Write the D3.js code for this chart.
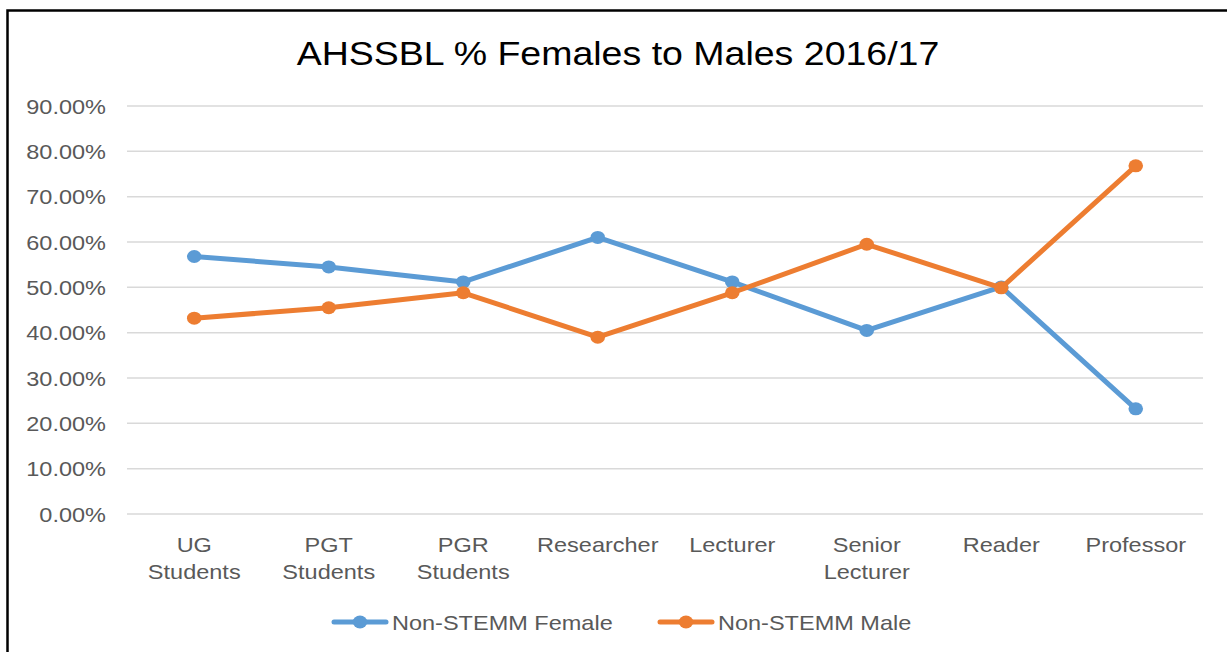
<!DOCTYPE html>
<html>
<head>
<meta charset="utf-8"/>
<script src="https://d3js.org/d3.v7.min.js"></script>
<style>
  body { margin: 0; background: #fff; }
  svg text { font-family: "Liberation Sans", Arial, sans-serif; }
</style>
</head>
<body>
<svg id="chart" width="1227" height="652"></svg>
<script>
// data
var categories = ["UG Students", "PGT Students", "PGR Students", "Researcher",
                  "Lecturer", "Senior Lecturer", "Reader", "Professor"];
var female = [56.8, 54.5, 51.2, 61.0, 51.2, 40.5, 50.1, 23.2];
var male   = [43.2, 45.5, 48.8, 39.0, 48.8, 59.5, 49.9, 76.8];
var yTicks = [0, 10, 20, 30, 40, 50, 60, 70, 80, 90];
var seriesNames = ["Non-STEMM Female", "Non-STEMM Male"];
var seriesColors = ["#5B9BD5", "#ED7D31"];

var svg = d3.select("#chart");
var stretch = 1.12; // the text in the picture looks a bit wide

// frame (only top/left visible in picture)
svg.append("rect")
    .attr("x", 7.5).attr("y", 10.5)
    .attr("width", 1300).attr("height", 800)
    .attr("fill", "#fff").attr("stroke", "#000").attr("stroke-width", 2.5);

function label(g, x, y, txt, size, anchor, color) {
    return g.append("text")
        .attr("transform", "translate(" + x + "," + y + ") scale(" + stretch + ",1)")
        .attr("text-anchor", anchor)
        .attr("font-size", size)
        .attr("fill", color)
        .text(txt);
}

// title
label(svg, 618, 65, "AHSSBL % Females to Males 2016/17", 33.5, "middle", "#000");

var x = d3.scaleBand().domain(categories).range([127, 1203]);
var y = d3.scaleLinear().domain([0, 90]).range([514, 106]);

// gridlines
svg.append("g").selectAll("line")
    .data(yTicks).enter().append("line")
    .attr("x1", 127).attr("x2", 1203)
    .attr("y1", function(d) { return y(d); })
    .attr("y2", function(d) { return y(d); })
    .attr("stroke", "#D9D9D9").attr("stroke-width", 1.5);

// y tick labels
var yl = svg.append("g");
yTicks.forEach(function(t) {
    label(yl, 106, y(t) + 7.5, d3.format(".2f")(t) + "%", 21, "end", "#595959");
});

// category labels, multi-word ones wrap onto two lines
var xl = svg.append("g");
categories.forEach(function(c) {
    var cx = x(c) + x.bandwidth() / 2;
    var words = c.split(" ");
    words.forEach(function(w, i) {
        label(xl, cx, 552 + i * 27, w, 21, "middle", "#595959");
    });
});

// lines and markers
var line = d3.line()
    .x(function(d, i) { return x(categories[i]) + x.bandwidth() / 2; })
    .y(function(d) { return y(d); });

[female, male].forEach(function(vals, s) {
    var g = svg.append("g");
    g.append("path")
        .datum(vals)
        .attr("d", line)
        .attr("fill", "none")
        .attr("stroke", seriesColors[s])
        .attr("stroke-width", 5)
        .attr("stroke-linejoin", "round")
        .attr("stroke-linecap", "round");
    g.selectAll("ellipse")
        .data(vals).enter().append("ellipse")
        .attr("cx", function(d, i) { return x(categories[i]) + x.bandwidth() / 2; })
        .attr("cy", function(d) { return y(d); })
        .attr("rx", 6.5 * stretch).attr("ry", 6.5)
        .attr("fill", seriesColors[s]);
});

// legend
var legendX = [332, 658];
var leg = svg.append("g");
seriesNames.forEach(function(n, i) {
    var lx = legendX[i];
    leg.append("line")
        .attr("x1", lx + 2).attr("x2", lx + 54)
        .attr("y1", 622).attr("y2", 622)
        .attr("stroke", seriesColors[i]).attr("stroke-width", 5)
        .attr("stroke-linecap", "round");
    leg.append("ellipse")
        .attr("cx", lx + 28).attr("cy", 622)
        .attr("rx", 6.5 * stretch).attr("ry", 6.5)
        .attr("fill", seriesColors[i]);
    label(leg, lx + 60, 629.5, n, 21, "start", "#595959");
});
</script>
</body>
</html>
